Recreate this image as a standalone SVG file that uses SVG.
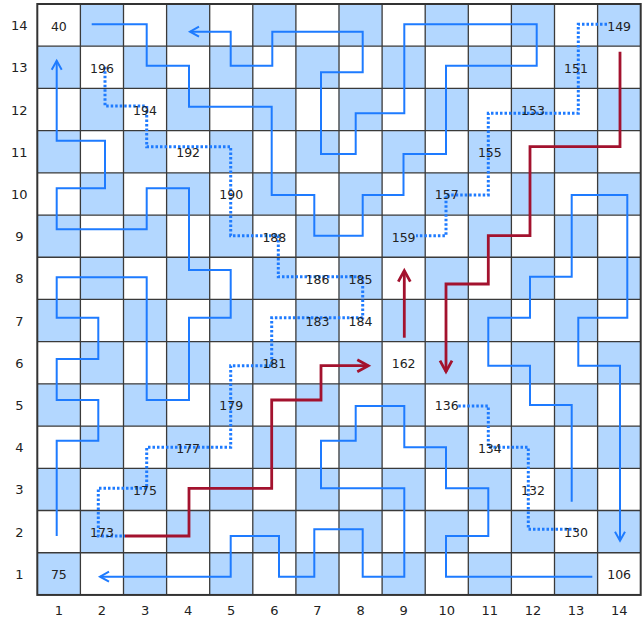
<svg xmlns="http://www.w3.org/2000/svg" width="642" height="623" viewBox="0 0 642 623">
<style>
.p{fill:none;stroke:#1e7bff;stroke-width:2}
.d{fill:none;stroke:#1e7bff;stroke-width:3;stroke-dasharray:2.5 2}
.r{fill:none;stroke:#a3122e;stroke-width:2.8}
.gl{fill:none;stroke:#3a3a3a;stroke-width:1.3}
text{font-family:"DejaVu Sans","Liberation Sans",sans-serif;fill:#222;text-anchor:middle}
.c{font-size:12.5px}
.ax{font-size:13px}
</style>
<defs>
<pattern id="chk" patternUnits="userSpaceOnUse" x="37.3" y="4" width="86.2" height="84.42">
<rect x="43.1" y="0" width="43.1" height="42.21" fill="#b3d7ff"/>
<rect x="0" y="42.21" width="43.1" height="42.21" fill="#b3d7ff"/>
</pattern>
<marker id="ab" markerUnits="userSpaceOnUse" viewBox="-11 -7 14 14" refX="0" refY="0" markerWidth="14" markerHeight="14" orient="auto" overflow="visible"><path d="M-9,-5 L0,0 L-9,5" fill="none" stroke="#1e7bff" stroke-width="2"/></marker>
<marker id="ar" markerUnits="userSpaceOnUse" viewBox="-13 -8 16 16" refX="0" refY="0" markerWidth="16" markerHeight="16" orient="auto" overflow="visible"><path d="M-11,-6 L0,0 L-11,6" fill="none" stroke="#a3122e" stroke-width="2.8"/></marker>
</defs>
<rect width="642" height="623" fill="#fff"/>
<g id="grid">
<rect x="37.3" y="4" width="603.4" height="590.94" fill="url(#chk)"/>
<path class="gl" d="M80.4,4V594.94M123.5,4V594.94M166.6,4V594.94M209.7,4V594.94M252.8,4V594.94M295.9,4V594.94M339,4V594.94M382.1,4V594.94M425.2,4V594.94M468.3,4V594.94M511.4,4V594.94M554.5,4V594.94M597.6,4V594.94M37.3,46.21H640.7M37.3,88.42H640.7M37.3,130.63H640.7M37.3,172.84H640.7M37.3,215.05H640.7M37.3,257.26H640.7M37.3,299.47H640.7M37.3,341.68H640.7M37.3,383.89H640.7M37.3,426.1H640.7M37.3,468.31H640.7M37.3,510.52H640.7M37.3,552.73H640.7"/>
<rect x="37.3" y="4" width="603.4" height="590.94" fill="none" stroke="#333" stroke-width="2"/>
</g>
<g id="connectors">
<path class="p" marker-end="url(#ab)" d="M91.7,24.3H146.7V65.7H189V106.7H271.7V195H314.3V235.7H362.7V195H403.5V154H446V65.7H536.7V24.3H404.3V113.3H355.7V154H321V72.3H362.7V31.7H272.3V65.7H230.7V31.7H190"/>
<path class="p" marker-end="url(#ab)" d="M56.7,536V440.7H98.3V400H56.7V359H98.3V317.7H56.7V277.3H146.7V400H189V317.7H230.7V270H189V188.3H146.7V229.3H56.7V188.3H105V140.7H56.7V60.7"/>
<path class="p" marker-end="url(#ab)" d="M592.3,576.7H446V536H488.3V488.3H446V447.3H404.3V406H355.7V440.7H321V488.3H404.3V576.7H362.7V529.3H314.3V576.7H279V536H230.7V576.7H100"/>
<path class="p" marker-end="url(#ab)" d="M571.7,501.7V405H530V365.7H488.3V317.7H530V276.7H571.7V195H627.3V317.7H578.3V365.7H620V540.7"/>
<path class="d" d="M607,24.3H578.3V113.3H488.3V195H446V235.7H416"/>
<path class="d" d="M105,66.7V106H146.7V146.7H230.7V235.7H278.3V276.7H362.7V317.7H271.7V365.7H230.7V447.3H146.7V488.3H98.3V536H125"/>
<path class="d" d="M458.3,406H488.3V447.3H528.3V529.3H576.7"/>
<path class="r" marker-end="url(#ar)" d="M125,536H189V488.3H271.7V400H321V365.7H368.3"/>
<path class="r" marker-end="url(#ar)" d="M404.3,337.7V270.7"/>
<path class="r" marker-end="url(#ar)" d="M620,51.7V146.7H530V235.7H488.3V284H446V371.7"/>
</g>
<g id="cells">
<g id="n40"><text class="c" x="58.85" y="30.6">40</text></g>
<g id="n196"><text class="c" x="101.95" y="72.8">196</text></g>
<g id="n194"><text class="c" x="145.05" y="115">194</text></g>
<g id="n192"><text class="c" x="188.15" y="157.2">192</text></g>
<g id="n190"><text class="c" x="231.25" y="199.4">190</text></g>
<g id="n188"><text class="c" x="274.35" y="241.6">188</text></g>
<g id="n186"><text class="c" x="317.45" y="283.8">186</text></g>
<g id="n185"><text class="c" x="360.55" y="283.8">185</text></g>
<g id="n183"><text class="c" x="317.45" y="326">183</text></g>
<g id="n184"><text class="c" x="360.55" y="326">184</text></g>
<g id="n181"><text class="c" x="274.35" y="368.2">181</text></g>
<g id="n162"><text class="c" x="403.65" y="368.2">162</text></g>
<g id="n179"><text class="c" x="231.25" y="410.4">179</text></g>
<g id="n136"><text class="c" x="446.75" y="410.4">136</text></g>
<g id="n177"><text class="c" x="188.15" y="452.6">177</text></g>
<g id="n134"><text class="c" x="489.85" y="452.6">134</text></g>
<g id="n175"><text class="c" x="145.05" y="494.8">175</text></g>
<g id="n132"><text class="c" x="532.95" y="494.8">132</text></g>
<g id="n173"><text class="c" x="101.95" y="537">173</text></g>
<g id="n130"><text class="c" x="576.05" y="537">130</text></g>
<g id="n75"><text class="c" x="58.85" y="579.2">75</text></g>
<g id="n106"><text class="c" x="619.15" y="579.2">106</text></g>
<g id="n159"><text class="c" x="403.65" y="241.6">159</text></g>
<g id="n157"><text class="c" x="446.75" y="199.4">157</text></g>
<g id="n155"><text class="c" x="489.85" y="157.2">155</text></g>
<g id="n153"><text class="c" x="532.95" y="115">153</text></g>
<g id="n151"><text class="c" x="576.05" y="72.8">151</text></g>
<g id="n149"><text class="c" x="619.15" y="30.6">149</text></g>
</g>
<g id="axes">
<text class="ax" x="19.3" y="30.1">14</text>
<text class="ax" x="19.3" y="72.3">13</text>
<text class="ax" x="19.3" y="114.5">12</text>
<text class="ax" x="19.3" y="156.7">11</text>
<text class="ax" x="19.3" y="198.9">10</text>
<text class="ax" x="19.3" y="241.1">9</text>
<text class="ax" x="19.3" y="283.3">8</text>
<text class="ax" x="19.3" y="325.5">7</text>
<text class="ax" x="19.3" y="367.7">6</text>
<text class="ax" x="19.3" y="409.9">5</text>
<text class="ax" x="19.3" y="452.1">4</text>
<text class="ax" x="19.3" y="494.3">3</text>
<text class="ax" x="19.3" y="536.5">2</text>
<text class="ax" x="19.3" y="578.7">1</text>
<text class="ax" x="58.85" y="615">1</text>
<text class="ax" x="101.95" y="615">2</text>
<text class="ax" x="145.05" y="615">3</text>
<text class="ax" x="188.15" y="615">4</text>
<text class="ax" x="231.25" y="615">5</text>
<text class="ax" x="274.35" y="615">6</text>
<text class="ax" x="317.45" y="615">7</text>
<text class="ax" x="360.55" y="615">8</text>
<text class="ax" x="403.65" y="615">9</text>
<text class="ax" x="446.75" y="615">10</text>
<text class="ax" x="489.85" y="615">11</text>
<text class="ax" x="532.95" y="615">12</text>
<text class="ax" x="576.05" y="615">13</text>
<text class="ax" x="619.15" y="615">14</text>
</g>
</svg>
